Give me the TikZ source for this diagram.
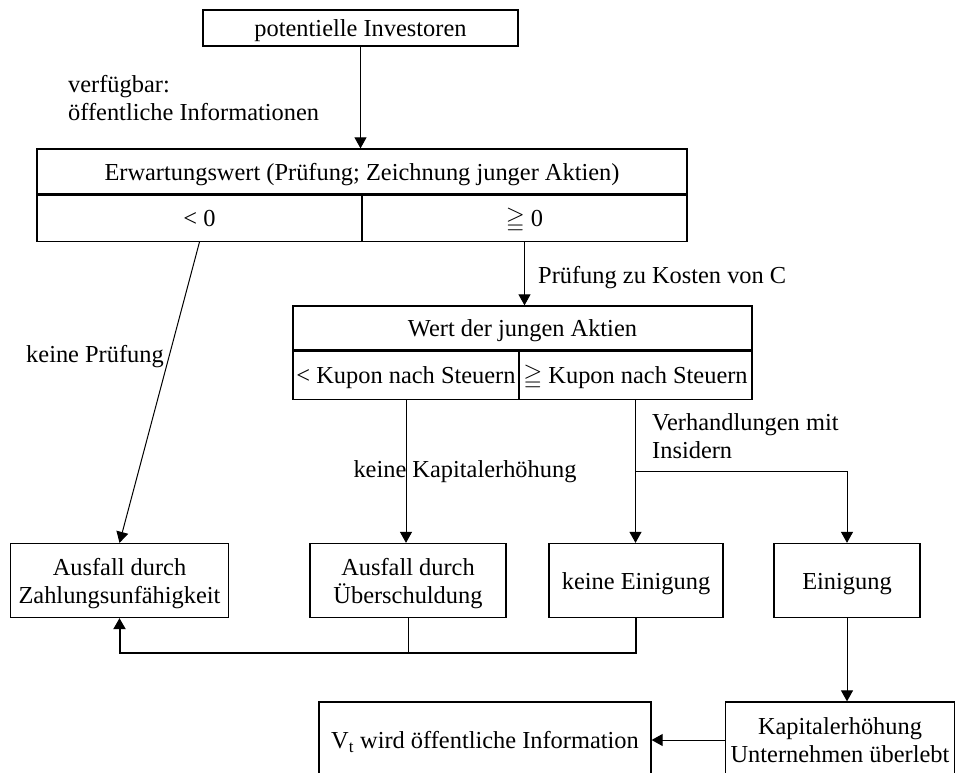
\documentclass[tikz,border=0pt]{standalone}
\usepackage{amsmath,amssymb}
\usepackage{fontspec}
\setmainfont{Liberation Serif}
\usetikzlibrary{arrows.meta,positioning,calc}

\begin{document}
\begin{tikzpicture}[
  x=1pt,y=-1pt,
  box/.style={draw,line width=1.3pt,inner sep=0pt,align=center,text height=17pt,text depth=0pt,
    font=\fontsize{24.4}{28}\selectfont},
  twoline/.style={text height=45pt,text depth=0pt},
  arr/.style={-{Triangle[length=11pt,width=12pt]},line width=1pt},
  ln/.style={line width=1pt},
  ann/.style={inner sep=0pt,font=\fontsize{24.4}{28}\selectfont}
]
\useasboundingbox (0,0) rectangle (956,772);
\clip (0,0) rectangle (956,772);

\node[box,minimum width=315pt,minimum height=36pt] (inv) at (360.5,28) {potentielle Investoren};

% expected value test, split in two cells
\node[box,minimum width=650pt,minimum height=45pt] (ew) at (362,171.5) {Erwartungswert (Prüfung; Zeichnung junger Aktien)};
\node[box,minimum width=325pt,minimum height=46pt,anchor=north west] (ewlt) at (ew.south west) {< 0};
\node[box,minimum width=325pt,minimum height=46pt,anchor=north east] (ewge) at (ew.south east) {$\geqq$ 0};

\node[box,minimum width=459pt,minimum height=44pt] (wert) at (522.5,328) {Wert der jungen Aktien};
\node[box,minimum width=226pt,minimum height=48pt,anchor=north west] (wlt) at (wert.south west) {< Kupon nach Steuern};
\node[box,minimum width=233pt,minimum height=48pt,anchor=north east] (wge) at (wert.south east) {$\geqq$ Kupon nach Steuern};

% outcomes
\node[box,twoline,minimum width=218pt,minimum height=74pt] (az) at (119.5,580.5) {Ausfall durch\\Zahlungsunfähigkeit};
\node[box,twoline,minimum width=196pt,minimum height=74pt] (au) at (408,580.5) {Ausfall durch\\Überschuldung};
\node[box,minimum width=174pt,minimum height=74pt] (ke) at (636,580.5) {keine Einigung};
\node[box,minimum width=146pt,minimum height=74pt] (ei) at (847,580.5) {Einigung};

\node[box,minimum width=332pt,minimum height=76pt] (vt) at (485,740) {V\textsubscript{t} wird öffentliche Information};
\node[box,twoline,minimum width=229pt,minimum height=76pt] (kap) at (840,740) {Kapitalerhöhung\\Unternehmen überlebt};

\draw[arr] (inv.south) -- (inv.south |- ew.north);
\draw[arr] (ewlt.south) -- (az.north);
\draw[arr] (ewge.south) -- (ewge.south |- wert.north);
\draw[arr] (wlt.south) -- (wlt.south |- au.north);
\draw[arr] (wge.south) -- (wge.south |- ke.north);
\coordinate (split) at ($(wge.south)+(0,72)$);
\draw[arr] (split) -| (ei.north);
\draw[arr] (ei.south) -- (ei.south |- kap.north);
\draw[arr] (kap.west) -- (vt.east);

% feedback line to the left outcome
\coordinate (back) at (0,653);
\draw[ln] (au.south) -- (au.south |- back);
\draw[arr,line width=2pt] (ke.south) |- (az.south |- back) -- (az.south);

\node[ann,align=left,anchor=west] (avail) at (68,98) {verfügbar:\\öffentliche Informationen};
\node[ann] (nocheck) at (95,357) {keine Prüfung};
\node[ann,anchor=west] (cost) at (538,278) {Prüfung zu Kosten von C};
\node[ann] (nocap) at (465,472) {keine Kapitalerhöhung};
\node[ann,align=left,anchor=west] (nego) at (652,436) {Verhandlungen mit\\Insidern};
\end{tikzpicture}
\end{document}
